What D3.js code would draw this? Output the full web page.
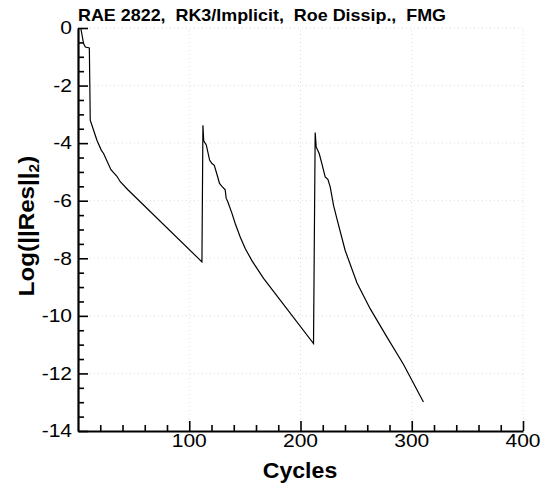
<!DOCTYPE html>
<html><head><meta charset="utf-8">
<script src="https://cdn.jsdelivr.net/npm/d3@7"></script>
<style>body{margin:0;background:#fff}svg{display:block}</style>
</head><body>
<svg id="chart" width="546" height="489"></svg>
<script>
const titleText = "RAE 2822,  RK3/Implicit,  Roe Dissip.,  FMG";
const xLabel = "Cycles";
const xTickValues = [100, 200, 300, 400];
const yTickValues = [0, -2, -4, -6, -8, -10, -12, -14];
const cycles = [2.5, 5, 6.6, 10.2, 11, 13.5, 17, 21, 23, 29.6, 35, 38, 44.6, 111.4,
  112.3, 113, 115.3, 118.3, 120.4, 122.5, 124.9, 127.2, 129.4, 132.3, 133.2, 134.4, 138.4, 141.3, 145.8, 150.3, 156.3, 166.8, 211.7,
  213.2, 214.1, 216.8, 219.2, 222.2, 224.6, 226.7, 229.7, 232.7, 240.1, 250.7, 262.6, 277.6, 292.5, 310.5];
const residual = [0, -0.54, -0.66, -0.69, -3.2, -3.49, -3.9, -4.25, -4.36, -4.92, -5.15, -5.34, -5.61, -8.125,
  -3.38, -3.92, -4.06, -4.59, -4.71, -4.77, -5.08, -5.4, -5.5, -5.62, -5.92, -6.01, -6.44, -6.79, -7.26, -7.66, -8.08, -8.7, -10.96,
  -3.63, -4.13, -4.36, -4.71, -5.17, -5.26, -5.52, -6.16, -6.62, -7.72, -8.85, -9.75, -10.73, -11.68, -12.99];

const svg = d3.select("#chart");
const x = d3.scaleLinear().domain([0, 400]).range([78, 523]);
const y = d3.scaleLinear().domain([-14, 0]).range([431, 28]);
const fontFam = "Arial, 'Liberation Sans', Helvetica, sans-serif";

// grid
const grid = svg.append("g").attr("stroke", "#dcdcdc").attr("stroke-width", 1).attr("stroke-dasharray", "1,3");
grid.selectAll("line.gx").data(xTickValues).join("line")
  .attr("x1", d => x(d)).attr("x2", d => x(d)).attr("y1", y(-14)).attr("y2", y(0));
grid.selectAll("line.gy").data(yTickValues.filter(v => v > -14)).join("line")
  .attr("x1", x(0)).attr("x2", x(400)).attr("y1", d => y(d)).attr("y2", d => y(d));

// axes
const xAxis = d3.axisBottom(x).tickValues(d3.range(20, 401, 20)).tickSizeInner(-6).tickSizeOuter(0).tickFormat("");
const gx = svg.append("g").attr("transform", `translate(0,${y(-14)})`).call(xAxis);
gx.selectAll(".tick line").filter(d => d % 100 === 0).attr("y2", -10);
const yAxis = d3.axisLeft(y).tickValues(d3.range(-14, 0.01, 0.5)).tickSizeInner(-6).tickSizeOuter(0).tickFormat("");
const gy = svg.append("g").attr("transform", `translate(${x(0)},0)`).call(yAxis);
gy.selectAll(".tick line").filter(d => Math.abs(d % 2) < 1e-9).attr("x2", 10);
[gx, gy].forEach(g => {
  g.select(".domain").attr("stroke", "#000").attr("stroke-width", 2.2);
  g.selectAll(".tick line").attr("stroke", "#000").attr("stroke-width", 1.6);
});

// tick labels (font is horizontally stretched in the reference)
svg.append("g").selectAll("text").data(xTickValues).join("text")
  .attr("transform", d => `translate(${x(d)},447) scale(1.2,1)`).attr("text-anchor", "middle")
  .attr("font-family", fontFam).attr("font-size", 17.5).text(d => d);
svg.append("g").selectAll("text").data(yTickValues).join("text")
  .attr("transform", d => `translate(72,${y(d) + 6.3}) scale(1.2,1)`).attr("text-anchor", "end")
  .attr("font-family", fontFam).attr("font-size", 17.5).text(d => d);

// line
const line = d3.line().x((d, i) => x(cycles[i])).y(d => y(d));
svg.append("path").datum(residual).attr("d", line)
  .attr("fill", "none").attr("stroke", "#000").attr("stroke-width", 1.2);

// title
svg.append("text").attr("transform", "translate(78,21) scale(1.12,1)").attr("font-family", fontFam)
  .attr("font-weight", "bold").attr("font-size", 16).attr("xml:space", "preserve")
  .style("white-space", "pre").text(titleText);

// x label
svg.append("text").attr("transform", "translate(300,478) scale(1.05,1)").attr("text-anchor", "middle")
  .attr("font-family", fontFam).attr("font-weight", "bold").attr("font-size", 22).text(xLabel);

// y label
const yl = svg.append("text").attr("transform", "translate(34,226) rotate(-90) scale(1.1,1)").attr("text-anchor", "middle")
  .attr("font-family", fontFam).attr("font-weight", "bold").attr("font-size", 22);
yl.append("tspan").text("Log(||Res||");
yl.append("tspan").attr("font-size", 14).attr("dy", 5).text("2");
yl.append("tspan").attr("dy", -5).text(")");
</script>
</body></html>
